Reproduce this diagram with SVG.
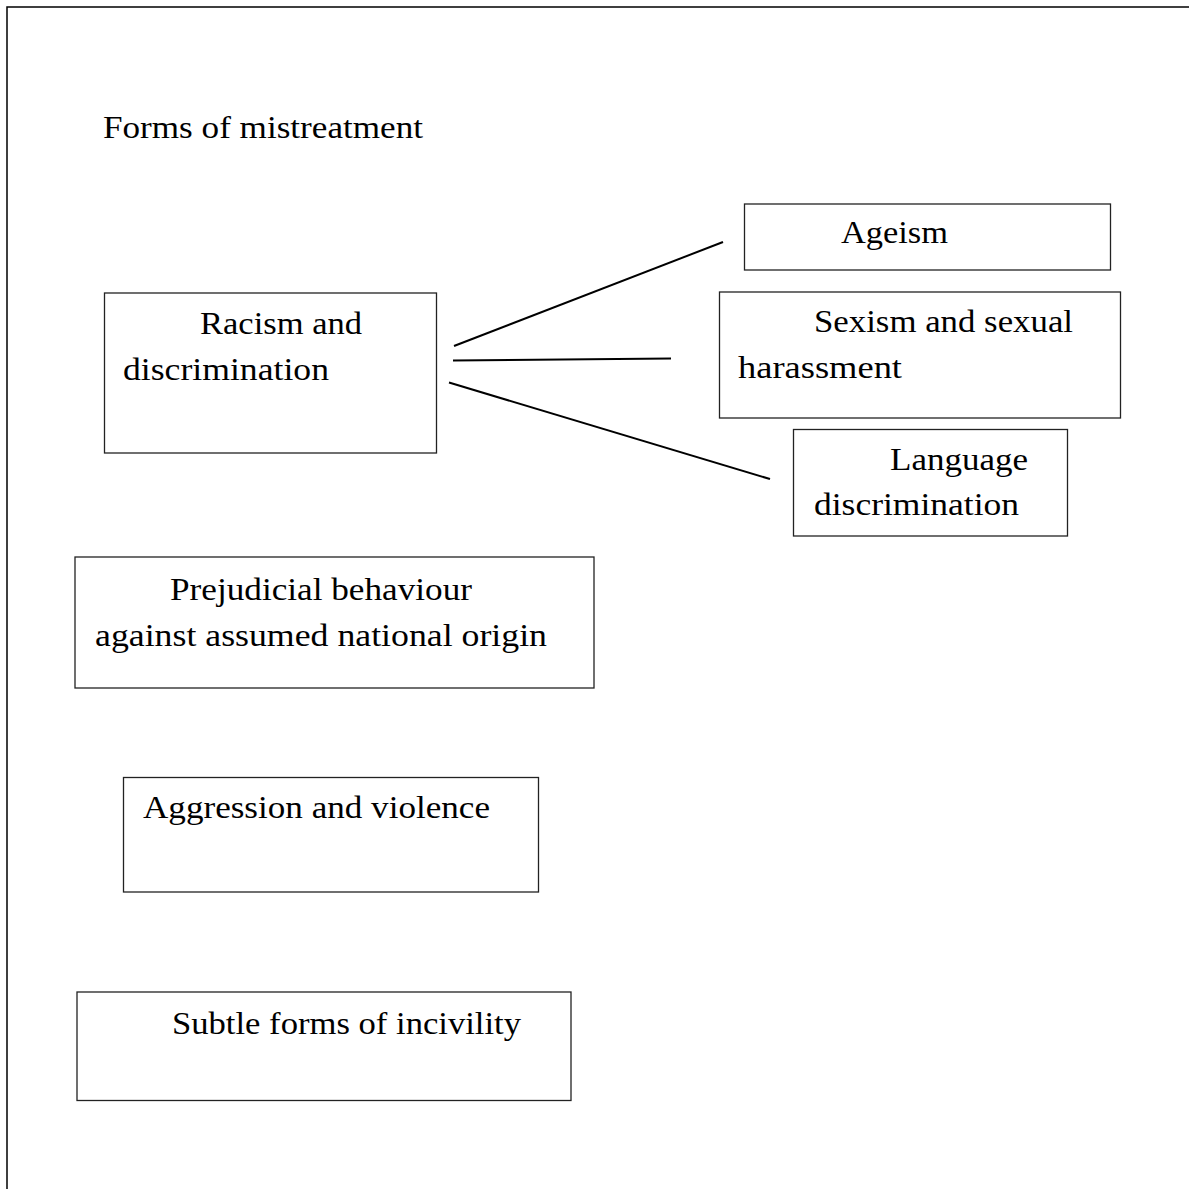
<svg xmlns="http://www.w3.org/2000/svg" width="1189" height="1189" viewBox="0 0 1189 1189">
<style>
.box{fill:#fff;stroke:#222;stroke-width:1.3}
.t{font-family:"Liberation Serif","Times New Roman",serif;font-size:32px;fill:#000}
.c{stroke:#000;stroke-width:2;fill:none}
</style>
<rect x="0" y="0" width="1189" height="1189" fill="#fff"/>
<rect x="7" y="7" width="1200" height="1200" fill="none" stroke="#000" stroke-width="1.5"/>
<text class="t" x="103" y="138" textLength="320" lengthAdjust="spacingAndGlyphs">Forms of mistreatment</text>
<g id="connectors">
<line class="c" x1="454" y1="346" x2="723" y2="242"/>
<line class="c" x1="453" y1="360.5" x2="671" y2="358.5"/>
<line class="c" x1="449" y1="382.5" x2="770" y2="479"/>
</g>
<g id="racism">
<rect class="box" x="104.5" y="293" width="332" height="160"/>
<text class="t" x="200" y="334" textLength="162" lengthAdjust="spacingAndGlyphs">Racism and</text>
<text class="t" x="123" y="380" textLength="206" lengthAdjust="spacingAndGlyphs">discrimination</text>
</g>
<g id="ageism">
<rect class="box" x="744.5" y="204" width="366" height="66"/>
<text class="t" x="841" y="243" textLength="107" lengthAdjust="spacingAndGlyphs">Ageism</text>
</g>
<g id="sexism">
<rect class="box" x="719.5" y="292" width="401" height="126"/>
<text class="t" x="814" y="332" textLength="259" lengthAdjust="spacingAndGlyphs">Sexism and sexual</text>
<text class="t" x="738" y="378" textLength="164" lengthAdjust="spacingAndGlyphs">harassment</text>
</g>
<g id="language">
<rect class="box" x="793.5" y="429.5" width="274" height="106.5"/>
<text class="t" x="890" y="470" textLength="138" lengthAdjust="spacingAndGlyphs">Language</text>
<text class="t" x="814" y="515" textLength="205" lengthAdjust="spacingAndGlyphs">discrimination</text>
</g>
<g id="prejudicial">
<rect class="box" x="75" y="557" width="519" height="131"/>
<text class="t" x="170" y="600" textLength="302" lengthAdjust="spacingAndGlyphs">Prejudicial behaviour</text>
<text class="t" x="95" y="646" textLength="452" lengthAdjust="spacingAndGlyphs">against assumed national origin</text>
</g>
<g id="aggression">
<rect class="box" x="123.5" y="777.5" width="415" height="114.5"/>
<text class="t" x="143" y="818" textLength="347" lengthAdjust="spacingAndGlyphs">Aggression and violence</text>
</g>
<g id="subtle">
<rect class="box" x="77" y="992" width="494" height="108.5"/>
<text class="t" x="172" y="1034" textLength="349" lengthAdjust="spacingAndGlyphs">Subtle forms of incivility</text>
</g>
</svg>
